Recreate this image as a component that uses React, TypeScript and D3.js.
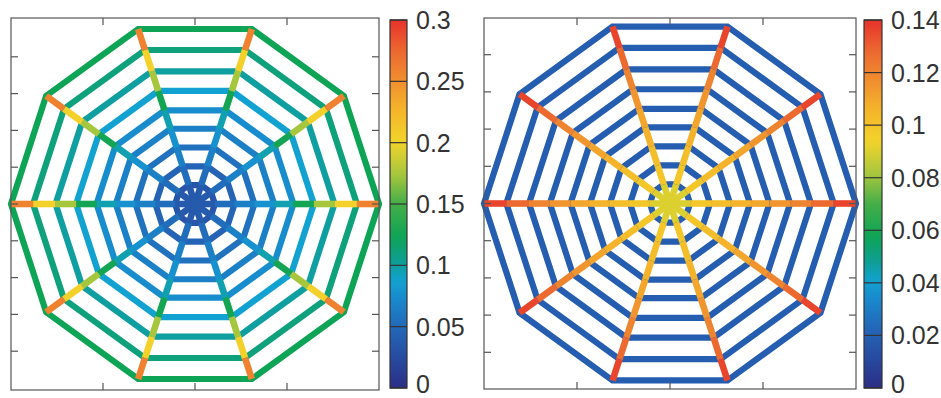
import React from 'react';
import * as d3 from 'd3';

const W = 941;
const H = 398;

// mesh: 9 decagonal rings, 10 radial spokes
const ringRadii = [0.108, 0.215, 0.323, 0.43, 0.535, 0.646, 0.758, 0.88, 1];
const spokeAngles = [0, 36, 72, 108, 144, 180, 216, 252, 288, 324];

// left panel
const leftRingValues = [0.034, 0.046, 0.056, 0.066, 0.075, 0.087, 0.1, 0.111, 0.123];
const leftSpokeValues = [0.038, 0.053, 0.066, 0.078, 0.096, 0.126, 0.174, 0.204, 0.258];
const leftColorTicks = [0, 0.05, 0.1, 0.15, 0.2, 0.25, 0.3];

// right panel
const rightRingValues = [0.019, 0.019, 0.019, 0.019, 0.019, 0.019, 0.019, 0.019, 0.019];
const rightSpokeValues = [0.09, 0.099, 0.102, 0.106, 0.11, 0.115, 0.12, 0.128, 0.136];
const rightColorTicks = [0, 0.02, 0.04, 0.06, 0.08, 0.1, 0.12, 0.14];

const xTicks = [-0.5, 0, 0.5];
const yTicks = [-0.8, -0.6, -0.4, -0.2, 0, 0.2, 0.4, 0.6, 0.8];

// jet-like colormap
const cmapT = [0, 0.15, 0.24, 0.29, 0.34, 0.41, 0.5, 0.58, 0.67, 0.76, 0.84, 0.92, 1];
const cmapC = ['#2b2e86', '#2462b4', '#1a88cc', '#12a2d2', '#0e9e98', '#0ea456', '#44ae48',
  '#a6c63e', '#f3d42a', '#f4b22a', '#f08c30', '#ec6630', '#e6322a'];
const cmap = d3.scaleLinear<string>().domain(cmapT).range(cmapC).interpolate(d3.interpolateRgb).clamp(true);

const font = '"Liberation Sans", Arial, Helvetica, sans-serif';
const fs = 25;

function Panel({ box, bar, ringValues, spokeValues, maxVal, colorTicks, id }) {
  const [x0, x1, y0, y1] = box;
  const aspect = (y1 - y0) / (x1 - x0);
  const xs = d3.scaleLinear().domain([-1, 1]).range([x0, x1]);
  const ys = d3.scaleLinear().domain([-aspect, aspect]).range([y1, y0]);
  const color = (v) => cmap(v / maxVal);
  const pt = (r, deg) => [xs(r * Math.cos((deg * Math.PI) / 180)), ys(r * Math.sin((deg * Math.PI) / 180))];
  const line = d3.line();

  const [bx0, bx1, by0, by1] = bar;
  const cs = d3.scaleLinear().domain([0, maxVal]).range([by1, by0]);
  const gradStops = d3.range(0, 1.0001, 0.02);

  return (
    <g>
      {/* rings */}
      {ringRadii.map((r, i) => (
        <path key={'r' + i}
          d={line(spokeAngles.map((a) => pt(r, a))) + 'Z'}
          fill="none" stroke={color(ringValues[i])} strokeWidth={6.2} strokeLinejoin="miter" />
      ))}
      {/* spokes */}
      {spokeAngles.map((a) =>
        ringRadii.map((r, i) => (
          <path key={'s' + a + '-' + i}
            d={line([pt(i === 0 ? 0 : ringRadii[i - 1], a), pt(r, a)])}
            stroke={color(spokeValues[i])} strokeWidth={6.6} strokeLinecap="butt" />
        ))
      )}
      {/* frame */}
      <rect x={x0} y={y0} width={x1 - x0} height={y1 - y0} fill="none" stroke="#555" strokeWidth={1.2} />
      {xTicks.map((t) => (
        <g key={'xt' + t} stroke="#555" strokeWidth={1.2}>
          <line x1={xs(t)} x2={xs(t)} y1={y1} y2={y1 - 7} />
          <line x1={xs(t)} x2={xs(t)} y1={y0} y2={y0 + 7} />
        </g>
      ))}
      {yTicks.map((t) => (
        <g key={'yt' + t} stroke="#555" strokeWidth={1.2}>
          <line x1={x0} x2={x0 + 7} y1={ys(t)} y2={ys(t)} />
          <line x1={x1} x2={x1 - 7} y1={ys(t)} y2={ys(t)} />
        </g>
      ))}
      {/* colorbar */}
      <defs>
        <linearGradient id={id} x1="0" y1="1" x2="0" y2="0">
          {gradStops.map((t) => (
            <stop key={t} offset={t} stopColor={cmap(t)} />
          ))}
        </linearGradient>
      </defs>
      <rect x={bx0} y={by0} width={bx1 - bx0} height={by1 - by0} fill={`url(#${id})`} stroke="#333" strokeWidth={1.2} />
      {colorTicks.map((t) => (
        <g key={'ct' + t}>
          <line x1={bx0} x2={bx1} y1={cs(t)} y2={cs(t)} stroke="#333" strokeWidth={1.2} />
          <text x={bx1 + 9} y={Math.min(cs(t) + 0.36 * fs, H - 0.22 * fs)} fontSize={fs} fontFamily={font} fill="#333">
            {String(t)}
          </text>
        </g>
      ))}
    </g>
  );
}

export default function App() {
  return (
    <svg width={W} height={H} style={{ position: 'absolute', left: 0, top: 0, background: '#fff' }}>
      <Panel id="cbL" box={[11, 379, 18, 390]} bar={[390, 407, 20, 388]}
        ringValues={leftRingValues} spokeValues={leftSpokeValues} maxVal={0.3} colorTicks={leftColorTicks} />
      <Panel id="cbR" box={[484, 856, 18, 389]} bar={[864, 882, 20, 388]}
        ringValues={rightRingValues} spokeValues={rightSpokeValues} maxVal={0.14} colorTicks={rightColorTicks} />
    </svg>
  );
}
